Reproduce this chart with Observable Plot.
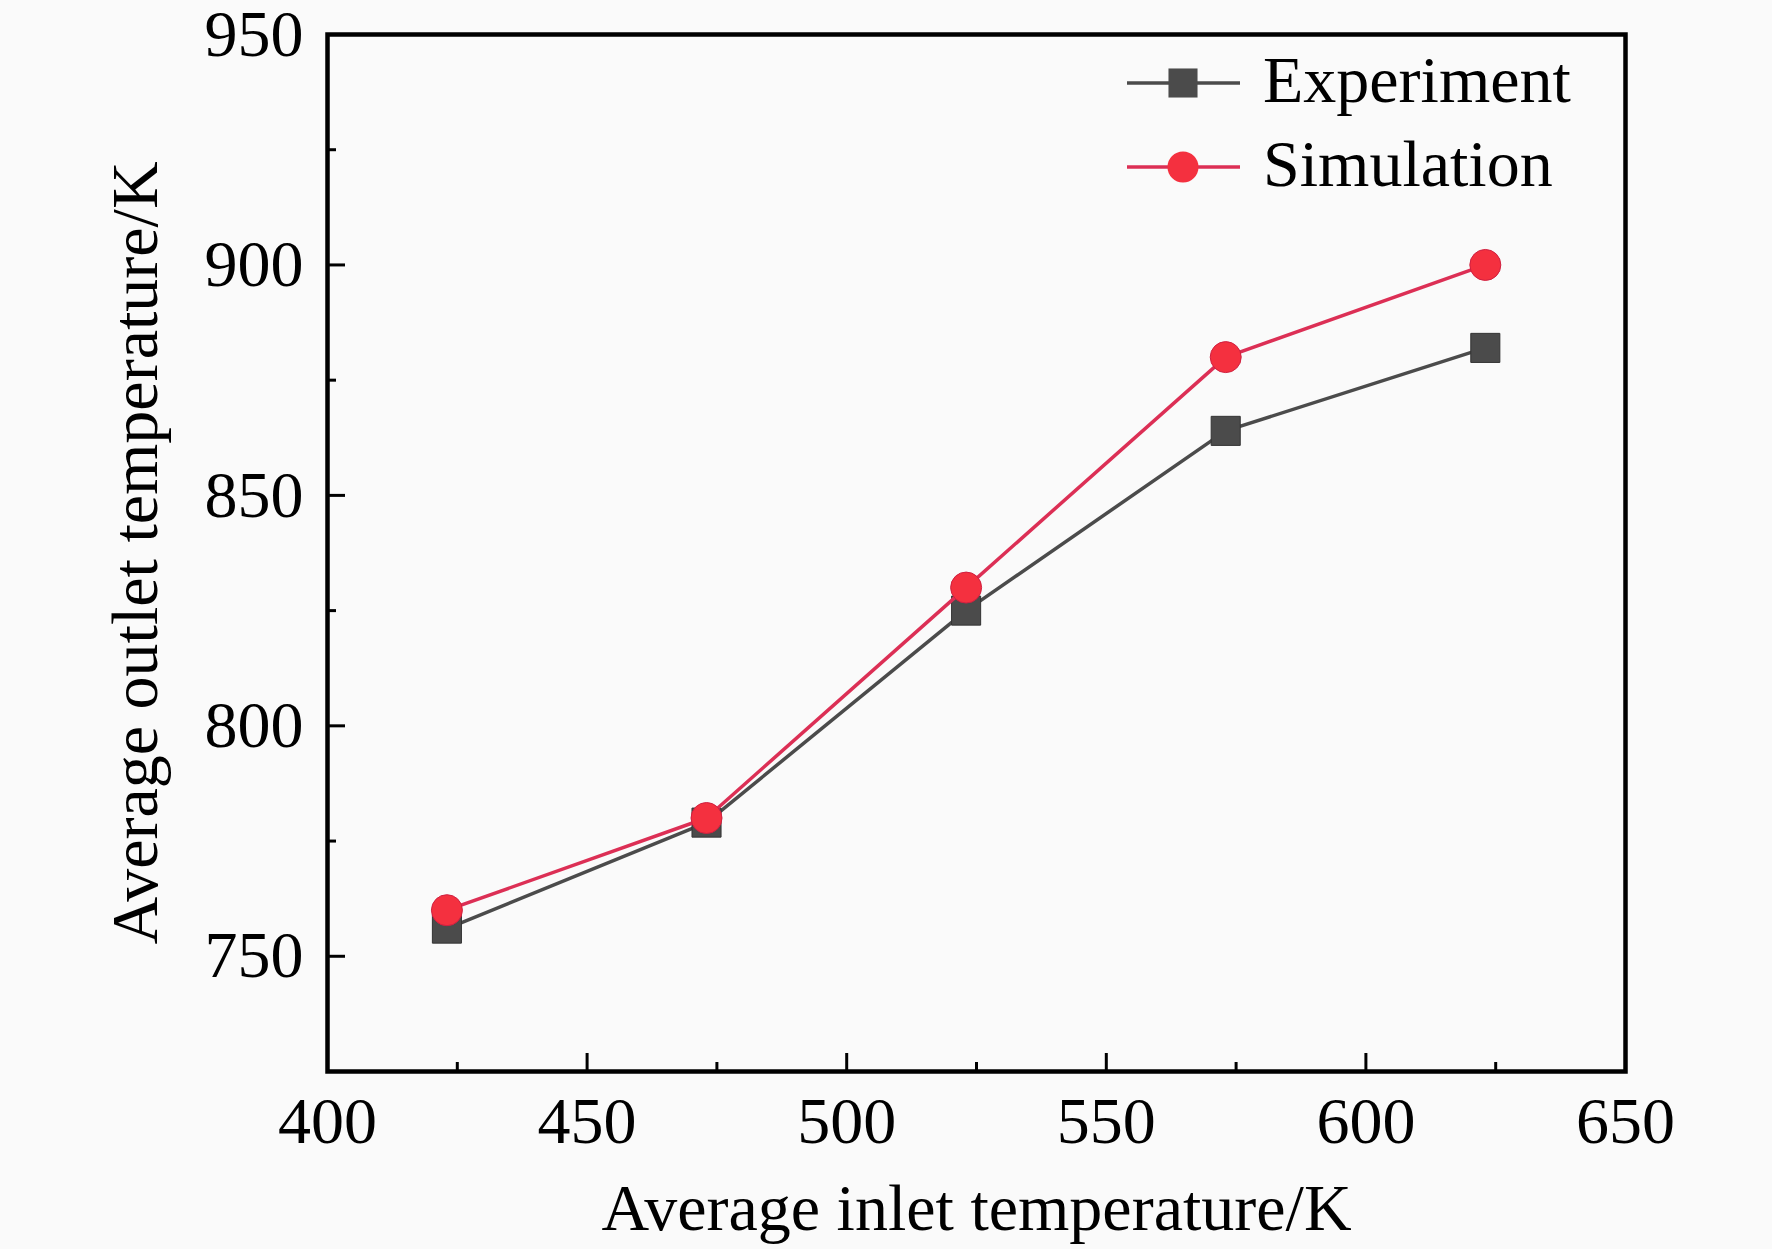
<!DOCTYPE html>
<html>
<head>
<meta charset="utf-8">
<script src="https://cdn.jsdelivr.net/npm/d3@7"></script>
<script src="https://cdn.jsdelivr.net/npm/@observablehq/plot@0.6"></script>
<style>
  html, body { margin: 0; padding: 0; background: #fafafa; }
  #chart svg { display: block; background: #fafafa; }
</style>
</head>
<body>
<div id="chart"></div>
<script>
const inletTemp = [423, 473, 523, 573, 623];
const experiment = [756, 779, 825, 864, 882];
const simulation = [760, 780, 830, 880, 900];
const seriesNames = ["Experiment", "Simulation"];
const xMajorTicks = [400, 450, 500, 550, 600, 650];
const xMinorTicks = [425, 475, 525, 575, 625];
const yMajorTicks = [750, 800, 850, 900, 950];
const yMinorTicks = [775, 825, 875, 925];
const xLabel = "Average inlet temperature/K";
const yLabel = "Average outlet temperature/K";

const W = 1772, H = 1249;
const mL = 327, mR = 147, mT = 34, mB = 178;
const innerW = W - mL - mR, innerH = H - mT - mB;
const FONT = "'Liberation Serif', 'Times New Roman', serif";
const FS = 66;
const grey = "#4b4b4b", lineRed = "#dc2f55", dotRed = "#f4303f";

const expData = inletTemp.map((x, i) => ({x, y: experiment[i]}));
const simData = inletTemp.map((x, i) => ({x, y: simulation[i]}));

const plot = Plot.plot({
  width: W, height: H,
  marginLeft: mL, marginRight: mR, marginTop: mT, marginBottom: mB,
  style: {background: "#fafafa", fontFamily: FONT, fontSize: FS + "px", color: "black"},
  x: {domain: [400, 650], axis: null},
  y: {domain: [725, 950], axis: null},
  marks: [
    // inward ticks
    Plot.ruleX(xMajorTicks, {x: d => d, insetTop: innerH - 18, stroke: "black", strokeWidth: 3}),
    Plot.ruleX(xMinorTicks, {x: d => d, insetTop: innerH - 9, stroke: "black", strokeWidth: 3}),
    Plot.ruleY(yMajorTicks, {y: d => d, insetRight: innerW - 18, stroke: "black", strokeWidth: 3}),
    Plot.ruleY(yMinorTicks, {y: d => d, insetRight: innerW - 9, stroke: "black", strokeWidth: 3}),
    // tick labels
    Plot.text(xMajorTicks, {x: d => d, frameAnchor: "bottom", textAnchor: "middle", lineAnchor: "top", dy: 25, text: d => String(d), fontSize: FS, fill: "black"}),
    Plot.text(yMajorTicks, {y: d => d, frameAnchor: "left", textAnchor: "end", lineAnchor: "middle", dx: -24, text: d => String(d), fontSize: FS, fill: "black"}),
    // axis titles
    Plot.text([xLabel], {frameAnchor: "bottom", textAnchor: "middle", lineAnchor: "middle", dy: 137, text: d => d, fontSize: FS, fill: "black"}),
    Plot.text([yLabel], {frameAnchor: "left", textAnchor: "middle", rotate: -90, lineAnchor: "middle", dx: -192, text: d => d, fontSize: FS, fill: "black"}),
    // data
    Plot.line(expData, {x: "x", y: "y", stroke: grey, strokeWidth: 3.5}),
    Plot.dot(expData, {x: "x", y: "y", symbol: "square", r: 16.4, fill: grey, stroke: "#333", strokeWidth: 1}),
    Plot.line(simData, {x: "x", y: "y", stroke: lineRed, strokeWidth: 3.5}),
    Plot.dot(simData, {x: "x", y: "y", symbol: "circle", r: 15.5, fill: dotRed, stroke: "#d02040", strokeWidth: 1}),
    Plot.frame({stroke: "black", strokeWidth: 4.5})
  ]
});
document.getElementById("chart").appendChild(plot);

// legend inside plot (top right)
const svg = d3.select(plot);
const leg = svg.append("g").attr("font-family", FONT).attr("font-size", FS).attr("text-anchor", "start");
const legendRows = [
  {name: seriesNames[0], stroke: grey, fill: grey, sym: d3.symbolSquare, r: 16.4, cy: 83},
  {name: seriesNames[1], stroke: lineRed, fill: dotRed, sym: d3.symbolCircle, r: 15.5, cy: 167}
];
legendRows.forEach(row => {
  leg.append("line").attr("x1", 1127).attr("x2", 1240).attr("y1", row.cy).attr("y2", row.cy)
    .attr("stroke", row.stroke).attr("stroke-width", 3.5);
  leg.append("path").attr("d", d3.symbol(row.sym, Math.PI * row.r * row.r)())
    .attr("transform", `translate(1183,${row.cy})`).attr("fill", row.fill);
  leg.append("text").attr("x", 1263).attr("y", row.cy + 19).attr("fill", "black")
    .attr("text-anchor", "start").text(row.name);
});
</script>
</body>
</html>
